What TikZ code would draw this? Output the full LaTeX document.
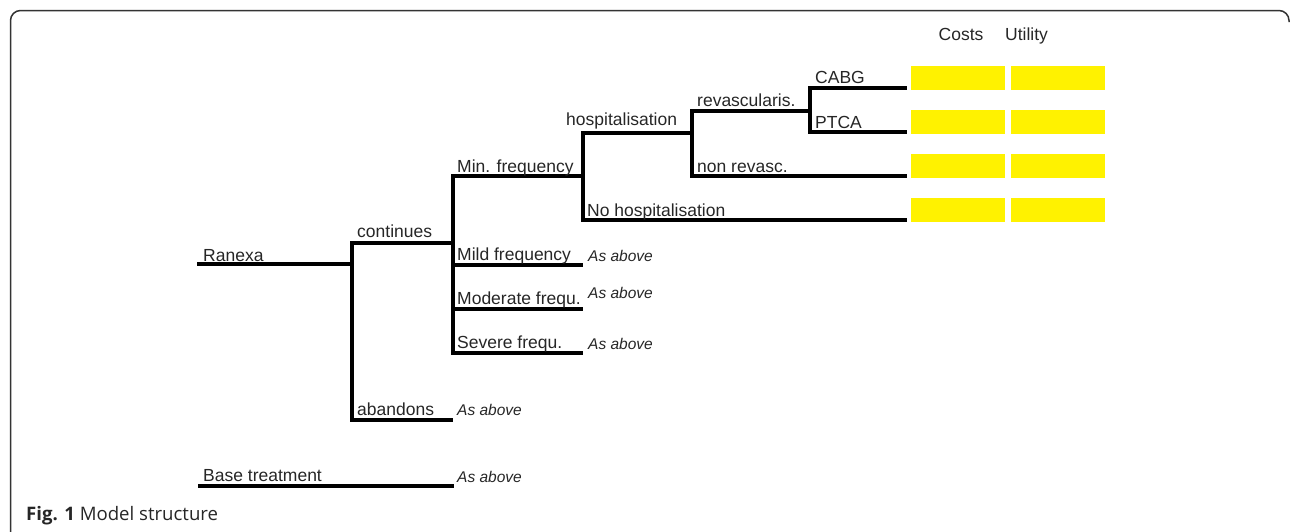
\documentclass[tikz,border=0pt]{standalone}
\usepackage{fontspec}
\setmainfont{Liberation Sans}
\newfontfamily\capfont{Open Sans}

\begin{document}
\begin{tikzpicture}[x=1pt, y=-1pt,
		branch/.style={line width=3.2pt},
		fork/.style={branch, to path={|- (\tikztotarget)}},
		lbl/.style={anchor=base west, inner sep=0pt, text=black!85, font=\fontsize{17.5}{20}\selectfont},
		note/.style={lbl, font=\fontsize{15.5}{18}\selectfont\itshape},
		payoff/.style={fill=yellow, anchor=north west, inner sep=0pt, minimum width=94pt, minimum height=24pt}]
		\clip (0,0) rectangle (1290,531);
		\draw[black!80, line width=1.5pt, rounded corners=10pt] (60,545) -- (10.5,545) -- (10.5,10.5) -- (1289,10.5) -- (1289,22);

		% tree points
		\coordinate (ran) at (197,264);
		\coordinate (nRan) at (352,264);
		\coordinate (cont) at (453,243);
		\coordinate (aban) at (453,420);
		\coordinate (minf) at (583,176);
		\coordinate (mild) at (583,265);
		\coordinate (mod) at (583,309);
		\coordinate (sev) at (583,353);
		\coordinate (hosp) at (692,133);
		\coordinate (nohosp) at (907,220);
		\coordinate (rev) at (810,111);
		\coordinate (nonrev) at (907,176);
		\coordinate (cabg) at (907,88);
		\coordinate (ptca) at (907,132);
		\coordinate (base0) at (198,486);
		\coordinate (base) at (454,486);

		\draw[branch] (ran) -- (nRan);
		\draw[branch, line width=4pt] (base0) -- (base);
		\path
		(nRan) edge[fork] (cont)
		(nRan) edge[fork] (aban)
		(cont) edge[fork] (minf)
		(cont) edge[fork] (mild)
		(cont) edge[fork] (mod)
		(cont) edge[fork] (sev)
		(minf) edge[fork] (hosp)
		(minf) edge[fork] (nohosp)
		(hosp) edge[fork] (rev)
		(hosp) edge[fork] (nonrev)
		(rev) edge[fork] (cabg)
		(rev) edge[fork] (ptca);

		% branch labels
		\node[lbl] at (203,261) (lRan) {Ranexa};
		\node[lbl] at (357,237) (lCont) {continues};
		\node[lbl] at (357,415) (lAban) {abandons};
		\node[lbl] at (203,481) (lBase) {Base treatment};
		\node[lbl] at (457,172) (lMin) {Min. frequency};
		\node[lbl] at (457,260.5) (lMild) {Mild frequency};
		\node[lbl] at (457,304.5) (lMod) {Moderate frequ.};
		\node[lbl] at (457,348.5) (lSev) {Severe frequ.};
		\node[lbl] at (566,125) (lHosp) {hospitalisation};
		\node[lbl] at (587,216) (lNoHosp) {No hospitalisation};
		\node[lbl] at (697,106) (lRev) {revascularis.};
		\node[lbl] at (697,172) (lNonRev) {non revasc.};
		\node[lbl] at (815,83.5) (lCabg) {CABG};
		\node[lbl] at (815,128) (lPtca) {PTCA};

		\node[note] at (588,261.5) (aMild) {As above};
		\node[note] at (588,298) (aMod) {As above};
		\node[note] at (588,349.5) (aSev) {As above};
		\node[note] at (457,415) (aAban) {As above};
		\node[note] at (457,482) (aBase) {As above};

		% payoff table
		\node[lbl, anchor=base] at (961,40) (costs) {Costs};
		\node[lbl, anchor=base] at (1026.5,40) (util) {Utility};
		\node[payoff] at (911,66) (cCabg) {};
		\node[payoff] at (1011,66) (uCabg) {};
		\node[payoff] at (911,110) (cPtca) {};
		\node[payoff] at (1011,110) (uPtca) {};
		\node[payoff] at (911,154) (cNonRev) {};
		\node[payoff] at (1011,154) (uNonRev) {};
		\node[payoff] at (911,198) (cNoHosp) {};
		\node[payoff] at (1011,198) (uNoHosp) {};

		\node[anchor=base west, inner sep=0pt, text=black!85, font=\capfont\fontsize{18.6}{22}\selectfont] at (26,520) (caption) {\textbf{Fig. 1} Model structure};
	\end{tikzpicture}
\end{document}
